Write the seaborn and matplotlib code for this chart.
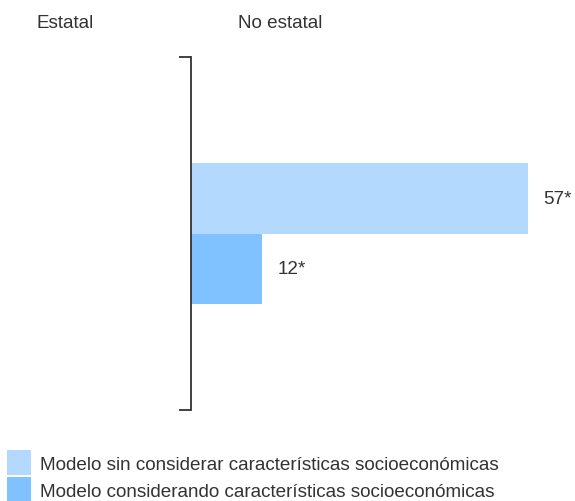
import matplotlib
matplotlib.use("Agg")
import matplotlib.pyplot as plt
import seaborn as sns
import pandas as pd

# Data
grupo = ["No estatal"]
modelos = [
    "Modelo sin considerar características socioeconómicas",
    "Modelo considerando características socioeconómicas",
]
valores = [57, 12]
etiquetas = ["57*", "12*"]
colores = ["#b3d9ff", "#80c2ff"]

df = pd.DataFrame({
    "grupo": grupo * len(modelos),
    "modelo": modelos,
    "valor": valores,
})

sns.set_theme(style="white")
plt.rcParams["font.family"] = ["Liberation Sans", "DejaVu Sans"]
TXT = "#333333"
FS = 13.6

fig = plt.figure(figsize=(5.75, 5.02), dpi=100)
W, H = 575, 502
x0_px, top_px, bot_px = 191, 58, 411
ppu = 5.91
xmin, xmax = -30, 63
left = (x0_px + xmin * ppu) / W
width = (xmax - xmin) * ppu / W
ax = fig.add_axes([left, 1 - bot_px / H, width, (bot_px - top_px) / H])

sns.barplot(data=df, x="valor", y="grupo", hue="modelo", hue_order=modelos,
            palette=colores, orient="h", width=0.4, dodge=True,
            saturation=1, linewidth=0, edgecolor="none", ax=ax, legend=True)

ax.set_xlim(xmin, xmax)
ax.set_ylim(0.5, -0.5)
ax.set_xlabel("")
ax.set_ylabel("")
ax.set_xticks([])
ax.set_yticks([-0.5, 0.5])
ax.set_yticklabels(["", ""])
ax.tick_params(axis="y", left=True, length=8.6, width=1.3, color=TXT, direction="out")
for s in ["top", "right", "bottom"]:
    ax.spines[s].set_visible(False)
ax.spines["left"].set_position(("data", 0))
ax.spines["left"].set_color(TXT)
ax.spines["left"].set_linewidth(1.3)
ax.spines["left"].set_zorder(5)
ax.patch.set_alpha(0)

for cont, lab in zip(ax.containers, etiquetas):
    ax.bar_label(cont, labels=[lab], padding=11, fontsize=FS, color=TXT)

# Column headers
fig.text(65.5 / W, 1 - 23 / H, "Estatal", ha="center", va="center", fontsize=FS, color=TXT)
fig.text(280.5 / W, 1 - 23 / H, "No estatal", ha="center", va="center", fontsize=FS, color=TXT)

# Legend below the axis
handles, labels = ax.get_legend_handles_labels()
for h in handles:
    h.set_linewidth(0)
    h.set_edgecolor("none")
ax.get_legend().remove()
fig.legend(handles, labels, loc="upper left", bbox_to_anchor=(7 / W, 1 - 451 / H),
           frameon=False, fontsize=FS, labelcolor=TXT, borderpad=0, borderaxespad=0,
           handlelength=1.29, handleheight=1.67, handletextpad=0.46, labelspacing=0.1)

fig.savefig("out.png", dpi=100)
